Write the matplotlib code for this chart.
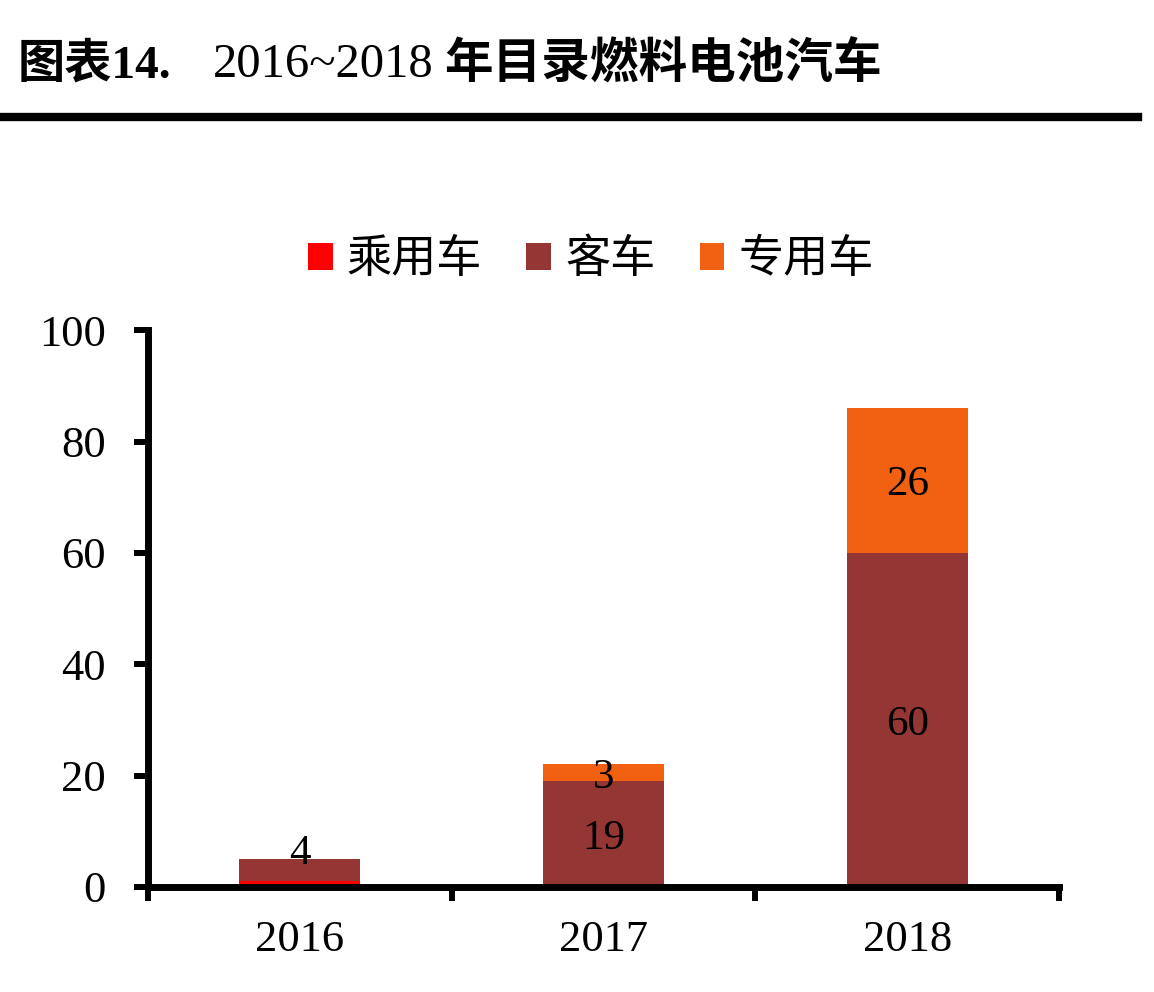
import numpy as np
import matplotlib.pyplot as plt

plt.rcParams['font.family'] = ['Liberation Serif', 'Noto Sans CJK SC']

years = ["2016", "2017", "2018"]
series = ["乘用车", "客车", "专用车"]
passenger = [1, 0, 0]
bus = [4, 19, 60]
special = [0, 3, 26]
colors = ["#FF0000", "#943634", "#F26111"]

fig = plt.figure(figsize=(11.54, 9.92), dpi=100)
ax = fig.add_axes([0.128, 0.106, 0.79, 0.561])

x = np.arange(len(years))
w = 0.4
ax.bar(x, passenger, w, color=colors[0], label=series[0])
ax.bar(x, bus, w, bottom=passenger, color=colors[1], label=series[1])
bottom2 = np.array(passenger) + np.array(bus)
ax.bar(x, special, w, bottom=bottom2, color=colors[2], label=series[2])

# data labels
for i in range(len(years)):
    if bus[i]:
        yb = passenger[i] + bus[i] / 2
        if bus[i] < 8:
            yb = bottom2[i] + 1.8
        ax.text(x[i], yb, str(bus[i]), ha='center', va='center_baseline', fontsize=31)
    if special[i]:
        ax.text(x[i], bottom2[i] + special[i] / 2, str(special[i]),
                ha='center', va='center_baseline', fontsize=31)

ax.set_xlim(-0.5, 2.5)
ax.set_ylim(0, 100)
ax.set_yticks(range(0, 101, 20))
ax.set_xticks(x)
ax.set_xticklabels(years)
ax.set_xticks([-0.5, 0.5, 1.5, 2.5], minor=True)
ax.tick_params(axis='x', which='major', length=0, pad=24, labelsize=32)
ax.tick_params(axis='x', which='minor', length=10, width=4.3, direction='out')
ax.tick_params(axis='y', length=10, width=4.3, direction='out', pad=20, labelsize=32)
for s in ['top', 'right']:
    ax.spines[s].set_visible(False)
for s in ['left', 'bottom']:
    ax.spines[s].set_linewidth(5)

leg = ax.legend(loc='center', bbox_to_anchor=(0.486, 1.126), ncol=3, frameon=False,
                fontsize=32.5, handlelength=0.55, handleheight=0.55, handletextpad=0.31,
                columnspacing=0.98)

t1 = fig.text(0.015, 0.934, "图表14.", fontsize=34, fontweight='bold',
              va='center', ha='left')
a2 = ax.annotate("2016~2018", xy=(1, 0.5), xycoords=t1, xytext=(30, 0),
                 textcoords='offset points', fontsize=35, va='center', ha='left',
                 annotation_clip=False)
ax.annotate("年目录燃料电池汽车", xy=(1, 0.5), xycoords=a2, xytext=(8, 0),
            textcoords='offset points', fontsize=35, fontweight='bold',
            va='center', ha='left', annotation_clip=False)
fig.add_artist(plt.Line2D([0, 0.986], [0.882, 0.882], color='black', lw=6,
                          transform=fig.transFigure))

plt.savefig("out.png", dpi=100)
